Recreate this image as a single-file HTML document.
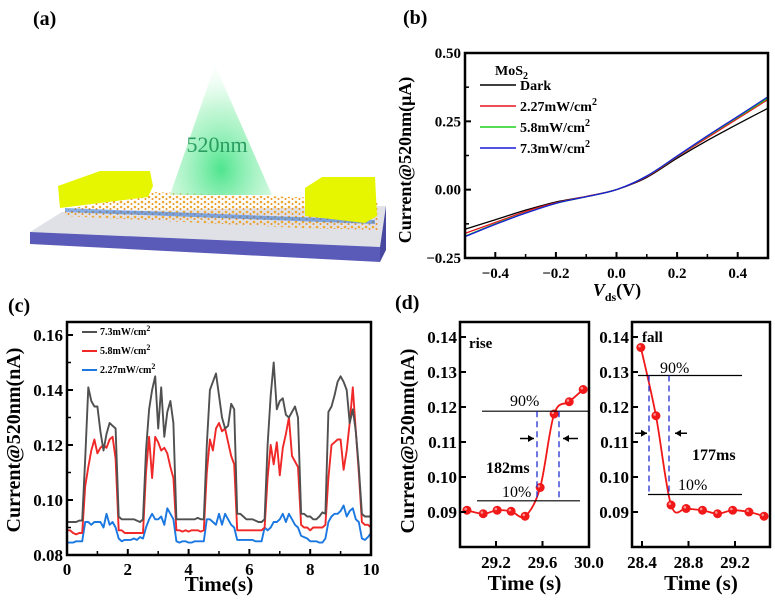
<!DOCTYPE html>
<html><head><meta charset="utf-8">
<style>
html,body{margin:0;padding:0;background:#fff;}
svg, svg text, svg tspan{font-family:"Liberation Serif","DejaVu Serif",serif;}
</style></head>
<body>
<svg id="fig" width="775" height="603" viewBox="0 0 775 603" xmlns="http://www.w3.org/2000/svg" font-family="Liberation Serif, serif">
<defs>
<radialGradient id="beam" cx="0.5" cy="0.8" r="0.8">
<stop offset="0" stop-color="#2fe07a" stop-opacity="0.85"/>
<stop offset="0.6" stop-color="#8ef0b0" stop-opacity="0.5"/>
<stop offset="1" stop-color="#e8fff0" stop-opacity="0.1"/>
</radialGradient>
<pattern id="atoms" width="7" height="5" patternUnits="userSpaceOnUse">
<circle cx="2" cy="2" r="1.3" fill="#f0a830"/>
<circle cx="5.5" cy="4" r="1" fill="#e89020"/>
</pattern>
</defs>
<g>
<text x="33" y="25" font-size="20" font-weight="bold" font-family="Liberation Serif, serif">(a)</text>
<polygon points="30,232 62,212 386,206 380,247" fill="#dfe1e6"/>
<polygon points="30,232 380,247 380,262 30,244" fill="#5a5ab8"/>
<polygon points="380,247 386,206 386,250 380,262" fill="#4848a0"/>
<polygon points="65,210 150,192 378,200 378,230 300,228 65,216" fill="url(#atoms)"/>
<polygon points="65,208 375,220 375,224 65,212" fill="#3a7ad8" opacity="0.6"/>
<polygon points="215,65 272,195 170,195" fill="url(#beam)"/>
<text x="217" y="152" font-size="22" font-weight="normal" font-family="Liberation Serif, serif" fill="#2a9d60" text-anchor="middle">520nm</text>
<polygon points="58,186 100,171 150,171 153,186 148,197 60,208" fill="#e6f500"/>
<polygon points="305,188 322,177 375,177 377,216 365,223 305,216" fill="#e6f500"/>
</g>
<g id="gb"></g>
<g id="gc"></g>
<g id="gd"></g>
</svg>
<script>
const bV = [-0.5,-0.4,-0.3,-0.2,-0.1,0,0.1,0.2,0.3,0.4,0.5];
const bDark = [-0.145,-0.11,-0.075,-0.045,-0.025,0,0.045,0.115,0.18,0.24,0.298];
const b227 = [-0.16,-0.12,-0.08,-0.048,-0.025,0,0.048,0.12,0.19,0.26,0.33];
const b58 = [-0.17,-0.125,-0.085,-0.05,-0.026,0,0.05,0.122,0.195,0.265,0.335];
const b73 = [-0.172,-0.127,-0.086,-0.05,-0.026,0,0.05,0.123,0.197,0.268,0.34];
const bYTicks = ["0.50","0.25","0.00","-0.25"];
const bXTicks = ["-0.4","-0.2","0.0","0.2","0.4"];
const cGray = [0.092,0.092,0.092,0.092,0.0925,0.0925,
0.115,0.141,0.136,0.134,0.134,0.125,0.118,0.124,0.128,0.127,0.126,0.094,0.093,0.093,0.093,0.093,0.093,0.0925,0.092,0.093,
0.118,0.133,0.140,0.145,0.126,0.141,0.123,0.132,0.136,0.128,0.093,0.093,0.093,0.093,0.093,0.093,0.093,0.0935,0.093,0.093,
0.120,0.140,0.143,0.146,0.138,0.130,0.126,0.127,0.135,0.133,0.095,0.095,0.094,0.093,0.093,0.093,0.0925,0.092,0.092,0.093,
0.120,0.138,0.150,0.133,0.136,0.137,0.131,0.130,0.132,0.134,0.130,0.095,0.095,0.094,0.094,0.093,0.093,0.094,0.0955,0.095,
0.132,0.134,0.138,0.143,0.145,0.143,0.140,0.128,0.133,0.125,0.112,0.095,0.094,0.094,0.094];
const cRed = [0.089,0.089,0.088,0.0875,0.088,0.088,
0.105,0.112,0.118,0.122,0.117,0.119,0.120,0.119,0.122,0.123,0.115,0.089,0.089,0.088,0.088,0.088,0.088,0.088,0.088,0.088,
0.110,0.123,0.108,0.123,0.121,0.118,0.119,0.117,0.112,0.108,0.089,0.089,0.0885,0.089,0.0885,0.089,0.089,0.089,0.0885,0.089,
0.110,0.122,0.118,0.126,0.128,0.125,0.126,0.121,0.116,0.113,0.089,0.089,0.089,0.089,0.089,0.089,0.089,0.089,0.089,0.090,
0.108,0.120,0.113,0.121,0.109,0.119,0.124,0.130,0.116,0.114,0.112,0.091,0.090,0.090,0.089,0.090,0.090,0.090,0.090,0.091,
0.108,0.120,0.121,0.122,0.122,0.111,0.118,0.128,0.141,0.125,0.110,0.092,0.091,0.091,0.090];
const cBlue = [0.0845,0.0845,0.0845,0.085,0.085,0.085,
0.092,0.092,0.091,0.092,0.092,0.092,0.090,0.095,0.091,0.092,0.090,0.086,0.085,0.0855,0.0855,0.0855,0.086,0.0855,0.0865,0.086,
0.090,0.093,0.095,0.093,0.093,0.094,0.091,0.097,0.095,0.093,0.085,0.0845,0.085,0.085,0.0845,0.0845,0.085,0.085,0.085,0.085,
0.093,0.093,0.092,0.091,0.095,0.091,0.095,0.093,0.091,0.090,0.0855,0.0855,0.0855,0.0855,0.0855,0.0855,0.085,0.085,0.085,0.090,
0.089,0.090,0.092,0.092,0.093,0.095,0.092,0.095,0.093,0.091,0.090,0.087,0.0865,0.086,0.085,0.085,0.085,0.0845,0.0845,0.086,
0.092,0.094,0.095,0.095,0.096,0.098,0.094,0.096,0.097,0.093,0.092,0.086,0.0855,0.0865,0.088];
const cYTicks = ["0.08","0.10","0.12","0.14","0.16"];
const cXTicks = ["0","2","4","6","8","10"];
const dRiseT = [28.95,29.09,29.21,29.33,29.45,29.58,29.70,29.83,29.95];
const dRiseI = [0.0905,0.0895,0.0905,0.0902,0.0888,0.097,0.118,0.1215,0.125];
const dFallT = [28.39,28.52,28.65,28.78,28.92,29.05,29.18,29.32,29.45];
const dFallI = [0.137,0.1175,0.092,0.091,0.0905,0.0895,0.0905,0.090,0.0888];
const dYTicks = ["0.09","0.10","0.11","0.12","0.13","0.14"];
const dRiseXTicks = ["29.2","29.6","30.0"];
const dFallXTicks = ["28.4","28.8","29.2"];

const NS="http://www.w3.org/2000/svg";
function mk(parent,tag,attrs,text){const e=document.createElementNS(NS,tag);for(const k in attrs)e.setAttribute(k,attrs[k]);
if(tag==='text'){e.setAttribute('font-family','Liberation Serif, serif');if(!attrs['font-weight'])e.setAttribute('font-weight','bold');}
if(text!==undefined)e.textContent=text;parent.appendChild(e);return e;}
function path(xs,ys,sx,sy){return xs.map((x,i)=>(i?'L':'M')+sx(x).toFixed(1)+','+sy(ys[i]).toFixed(1)).join(' ');}
function smooth(xs,ys,sx,sy){const p=xs.map((x,i)=>[sx(x),sy(ys[i])]);let d='M'+p[0][0]+','+p[0][1];for(let i=0;i<p.length-1;i++){const p0=p[i-1]||p[i],p1=p[i],p2=p[i+1],p3=p[i+2]||p2;d+=' C'+(p1[0]+(p2[0]-p0[0])/6)+','+(p1[1]+(p2[1]-p0[1])/6)+' '+(p2[0]-(p3[0]-p1[0])/6)+','+(p2[1]-(p3[1]-p1[1])/6)+' '+p2[0]+','+p2[1];}return d;}

(function(){
const g=document.getElementById('gb');
const L=465,R=768,T=53,B=258;
const sx=v=>L+(v+0.5)/1.0*(R-L), sy=v=>T+(0.5-v)/0.75*(B-T);
let t=mk(g,'text',{x:403,y:24,'font-size':20},'(b)');


const series=[[bDark,'#000','dark'],[b227,'#e8141e','2-27mw'],[b58,'#1ed21e','5-8mw'],[b73,'#1a1ad8','7-3mw']];
series.forEach(s=>{const p=mk(g,'path',{d:smooth(bV,s[0],sx,sy),fill:'none',stroke:s[1],'stroke-width':1.3});

});
const box=mk(g,'rect',{x:L,y:T,width:R-L,height:B-T,fill:'none',stroke:'#000','stroke-width':2.5});


bYTicks.forEach(s=>{const v=parseFloat(s);const y=sy(v);mk(g,'line',{x1:L,x2:L+6,y1:y,y2:y,stroke:'#000','stroke-width':2});
const tx=mk(g,'text',{x:L-4,y:y+5,'font-size':15,'text-anchor':'end'},s.replace('-','\u2212'));

});
[0.375,0.125,-0.125].forEach(v=>mk(g,'line',{x1:L,x2:L+4,y1:sy(v),y2:sy(v),stroke:'#000','stroke-width':1.5}));
bXTicks.forEach(s=>{const v=parseFloat(s);const x=sx(v);mk(g,'line',{x1:x,x2:x,y1:B,y2:B-6,stroke:'#000','stroke-width':2});
const tx=mk(g,'text',{x:x,y:B+20,'font-size':15,'text-anchor':'middle'},s.replace('-','\u2212'));

});
[-0.3,-0.1,0.1,0.3].forEach(v=>mk(g,'line',{x1:sx(v),x2:sx(v),y1:B,y2:B-4,stroke:'#000','stroke-width':1.5}));
const yl=mk(g,'text',{x:0,y:0,'font-size':18,'text-anchor':'middle',transform:'translate(411,160) rotate(-90)'},'Current@520nm(\u03bcA)');


const xl=mk(g,'text',{x:617,y:296,'font-size':18,'text-anchor':'middle'});


mk(xl,'tspan',{'font-style':'italic'},'V');mk(xl,'tspan',{'font-size':12,dy:5},'ds');mk(xl,'tspan',{dy:-5},'(V)');
const mt=mk(g,'text',{x:495,y:75,'font-size':14});


mt.textContent='MoS';mk(mt,'tspan',{'font-size':10,dy:4},'2');
const leg=[['Dark','#000',90],['2.27mW/cm','#e8141e',111],['5.8mW/cm','#1ed21e',132],['7.3mW/cm','#1a1ad8',153]];
leg.forEach((l,i)=>{const ln=mk(g,'line',{x1:480,x2:516,y1:l[2]-5,y2:l[2]-5,stroke:l[1],'stroke-width':1.5});


const tx=mk(g,'text',{x:520,y:l[2],'font-size':14},l[0]);


if(i>0)mk(tx,'tspan',{'font-size':10,dy:-6},'2');});
})();

(function(){
const g=document.getElementById('gc');
const L=67,R=371,T=322,B=555;
const sx=v=>L+v/10*(R-L), sy=v=>B-(v-0.08)*2750;
const tx0=mk(g,'text',{x:8,y:312,'font-size':20},'(c)');


const ts=cGray.map((_,i)=>i*0.1);
[[cBlue,'#1a78e0','2-27mw'],[cRed,'#f02828','5-8mw'],[cGray,'#505050','7-3mw']].forEach(s=>{
const p=mk(g,'path',{d:path(ts,s[0],sx,sy),fill:'none',stroke:s[1],'stroke-width':1.9,'stroke-linejoin':'round'});

});
const box=mk(g,'rect',{x:L,y:T,width:R-L,height:B-T,fill:'none',stroke:'#000','stroke-width':2.5});


cYTicks.forEach(s=>{const v=parseFloat(s),y=sy(v);mk(g,'line',{x1:L,x2:L+6,y1:y,y2:y,stroke:'#000','stroke-width':2});
const t=mk(g,'text',{x:L-4,y:y+6,'font-size':17,'text-anchor':'end'},s);

});
[0.09,0.11,0.13,0.15].forEach(v=>mk(g,'line',{x1:L,x2:L+4,y1:sy(v),y2:sy(v),stroke:'#000','stroke-width':1.5}));
cXTicks.forEach(s=>{const v=parseFloat(s),x=sx(v);mk(g,'line',{x1:x,x2:x,y1:B,y2:B-6,stroke:'#000','stroke-width':2});
const t=mk(g,'text',{x:x,y:B+20,'font-size':17,'text-anchor':'middle'},s);

});
[1,3,5,7,9].forEach(v=>mk(g,'line',{x1:sx(v),x2:sx(v),y1:B,y2:B-4,stroke:'#000','stroke-width':1.5}));
const yl=mk(g,'text',{x:0,y:0,'font-size':20,'text-anchor':'middle',transform:'translate(20,440) rotate(-90)'},'Current@520nm(nA)');


const xl=mk(g,'text',{x:219,y:591,'font-size':21,'text-anchor':'middle'},'Time(s)');


[['7.3mW/cm','#505050',335],['5.8mW/cm','#f02828',354],['2.27mW/cm','#1a78e0',373]].forEach(l=>{
const ln=mk(g,'line',{x1:82,x2:97,y1:l[2]-3,y2:l[2]-3,stroke:l[1],'stroke-width':2});


const t=mk(g,'text',{x:100,y:l[2],'font-size':10},l[0]);


mk(t,'tspan',{'font-size':8,dy:-4},'2');});
})();

(function(){
const g=document.getElementById('gd');
const T=322,B=547;
const sy=v=>337+(0.14-v)*3500;
const lab=mk(g,'text',{x:395,y:309,'font-size':20},'(d)');


const yl=mk(g,'text',{x:0,y:0,'font-size':20,'text-anchor':'middle',transform:'translate(414,441) rotate(-90)'},'Current@520nm(nA)');


function sub(L,R,x0,ts,is,xt,name,title){
const sx=v=>x0+(v-parseFloat(xt[0]))*116.25;
const sg=mk(g,'g',{});


const cp=mk(sg,'clipPath',{id:'cp'+name});
mk(cp,'rect',{x:L,y:T,width:R-L,height:B-T});
const cg=mk(sg,'g',{'clip-path':'url(#cp'+name+')'});
const ln=mk(cg,'path',{d:smooth(ts,is,sx,sy),fill:'none',stroke:'#f01818','stroke-width':1.8});


ts.forEach((t,i)=>{const c=mk(cg,'circle',{cx:sx(t),cy:sy(is[i]),r:4.5,fill:'#f01818'});


mk(cg,'circle',{cx:sx(t)-1.3,cy:sy(is[i])-1.3,r:1.3,fill:'#ff9090'});});
const box=mk(sg,'rect',{x:L,y:T,width:R-L,height:B-T,fill:'none',stroke:'#000','stroke-width':2.5});


dYTicks.forEach(s=>{const y=sy(parseFloat(s));mk(sg,'line',{x1:L,x2:L+6,y1:y,y2:y,stroke:'#000','stroke-width':2});
const t=mk(sg,'text',{x:L-3,y:y+6,'font-size':17,'text-anchor':'end'},s);

});
xt.forEach(s=>{const x=sx(parseFloat(s));mk(sg,'line',{x1:x,x2:x,y1:B,y2:B-6,stroke:'#000','stroke-width':2});
const t=mk(sg,'text',{x:x,y:B+21,'font-size':17,'text-anchor':'middle'},s);

});
const xl=mk(sg,'text',{x:(L+R)/2,y:590,'font-size':21,'text-anchor':'middle'},title);


return sg;}
const a=sub(460,589,496,dRiseT,dRiseI,dRiseXTicks,'rise-subplot','Time (s)');
const b=sub(632,770,642,dFallT,dFallI,dFallXTicks,'fall-subplot','Time (s)');
function txt(p,x,y,s,sz,nm,w){const t=mk(p,'text',{x:x,y:y,'font-size':sz,'font-weight':w||'bold'},s);

}
function hl(p,x1,x2,y,nm){const l=mk(p,'line',{x1:x1,x2:x2,y1:y,y2:y,stroke:'#000','stroke-width':1.2});

}
function vd(p,x,y1,y2){const l=mk(p,'line',{x1:x,x2:x,y1:y1,y2:y2,stroke:'#2030d0','stroke-width':1.3,'stroke-dasharray':'6,4'});

}
function arr(p,x1,x2,y){mk(p,'line',{x1:x1,x2:x2,y1:y,y2:y,stroke:'#000','stroke-width':1.5});const d=x2>x1?-1:1;
const h=mk(p,'polygon',{points:x2+','+y+' '+(x2+d*6)+','+(y-3.5)+' '+(x2+d*6)+','+(y+3.5),fill:'#000'});

}
txt(a,469,348,'rise',15,'rise-label');
hl(a,482,589,sy(0.1188),'line-90-percent');hl(a,477,580,sy(0.0932),'line-10-percent');
vd(a,537,sy(0.1188),sy(0.0932));vd(a,559,sy(0.1188),sy(0.0932));
arr(a,520,534,sy(0.111));arr(a,578,563,sy(0.111));
txt(a,510,406,'90%',16,'label-90-percent','normal');txt(a,502,497,'10%',16,'label-10-percent','normal');
txt(a,486,473,'182ms',16,'rise-time-label');
txt(b,642,342,'fall',15,'fall-label');
hl(b,638,742,sy(0.129),'line-90-percent');hl(b,648,742,sy(0.095),'line-10-percent');
vd(b,649,sy(0.129),sy(0.095));vd(b,669,sy(0.129),sy(0.095));
arr(b,635,647,sy(0.1125));arr(b,687,675,sy(0.1125));
txt(b,660,373,'90%',16,'label-90-percent','normal');txt(b,678,490,'10%',16,'label-10-percent','normal');
txt(b,692,460,'177ms',16,'fall-time-label');
})();
</script>
</body></html>
